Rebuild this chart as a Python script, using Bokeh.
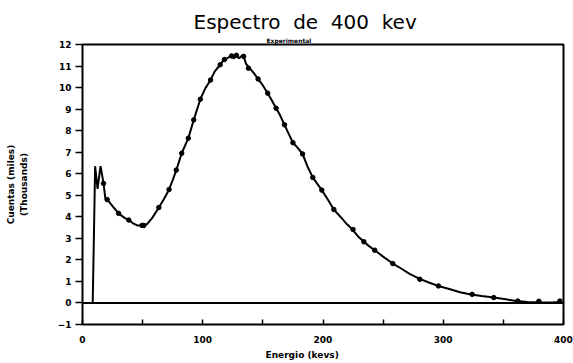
import numpy as np
from bokeh.plotting import figure
from bokeh.models import Range1d, FixedTicker, Span, ColumnDataSource, Title
from bokeh.embed import file_html
from bokeh.resources import INLINE

# Spectrum curve (energy keV, counts in thousands)
energy = [8.5, 10.5, 12.5, 15, 17.5, 19, 21, 25, 30, 35, 38.5, 42, 45.5, 49.5, 53.5, 58,
          63.5, 68, 72, 75, 78, 82.5, 88, 92.5, 98, 102, 106.5, 110, 114.5, 117.5, 120,
          122, 124, 126, 128, 130, 132, 134, 136, 139, 142.5, 146, 150, 154, 157.5, 161,
          164, 168, 171.5, 175, 179, 183, 187, 191.5, 195, 199, 204, 209, 215, 220, 224.5,
          229, 234, 238, 243, 250, 258, 265, 272, 280, 288, 296, 305, 314, 323, 332, 342,
          352, 361, 370, 380, 390, 398]
counts = [0, 6.35, 5.3, 6.35, 5.55, 4.85, 4.78, 4.5, 4.16, 3.95, 3.85, 3.7, 3.6, 3.6, 3.65, 3.95,
          4.43, 4.85, 5.27, 5.7, 6.17, 6.95, 7.65, 8.5, 9.46, 9.95, 10.35, 10.75, 11.06, 11.3, 11.35,
          11.42, 11.47, 11.35, 11.5, 11.35, 11.45, 11.45, 11.1, 10.9, 10.67, 10.4, 10.1, 9.74, 9.4, 9.04,
          8.75, 8.27, 7.85, 7.44, 7.2, 6.92, 6.35, 5.83, 5.55, 5.24, 4.8, 4.34, 3.97, 3.65, 3.41,
          3.1, 2.84, 2.65, 2.45, 2.15, 1.83, 1.6, 1.35, 1.13, 0.95, 0.79, 0.65, 0.5, 0.39, 0.32, 0.25,
          0.17, 0.09, 0.05, 0.03, 0.02, 0.05]

# Marked points along the curve
mark_energy = [17.5, 20.5, 30, 38.5, 49.5, 51, 63.5, 72, 78, 82.5, 88, 92.5, 98, 106.5, 114.5,
               118, 124, 128, 134, 138, 146, 154, 161, 168, 175, 183, 191.5, 199, 209, 225,
               234, 243, 258, 280.5, 296, 324, 342, 362, 379.5, 397]
mark_counts = [5.55, 4.8, 4.16, 3.85, 3.6, 3.6, 4.43, 5.27, 6.17, 6.95, 7.65, 8.5, 9.46, 10.35, 11.06,
               11.3, 11.47, 11.5, 11.45, 10.9, 10.4, 9.74, 9.04, 8.27, 7.44, 6.92, 5.83, 5.24, 4.34, 3.41,
               2.84, 2.45, 1.83, 1.1, 0.79, 0.4, 0.25, 0.09, 0.08, 0.09]

x_ticks = [0, 100, 200, 300, 400]
x_minor = [50, 150, 250, 350]
y_ticks = list(range(-1, 13))

p = figure(width=573, height=363, output_backend="svg", toolbar_location=None,
           x_range=Range1d(0, 400), y_range=Range1d(-1, 12),
           min_border_left=82, min_border_right=10, min_border_top=44, min_border_bottom=39)
p.title = None
p.background_fill_color = "white"
p.border_fill_color = "white"
p.grid.visible = False
p.outline_line_color = "black"
p.outline_line_width = 2

p.xaxis.ticker = FixedTicker(ticks=x_ticks, minor_ticks=x_minor)
p.yaxis.ticker = FixedTicker(ticks=y_ticks)
for ax in (p.xaxis, p.yaxis):
    ax.axis_line_color = None
    ax.major_label_text_font = "DejaVu Sans"
    ax.major_label_text_font_style = "bold"
    ax.major_label_text_font_size = "9px"
    ax.major_label_text_color = "black"
    ax.major_tick_line_color = "black"
    ax.major_tick_line_width = 1.5
p.yaxis.major_tick_in = 0
p.yaxis.major_tick_out = 7
p.yaxis.minor_tick_line_color = None
p.yaxis.major_label_standoff = 4
p.yaxis.axis_label = " "
p.yaxis.axis_label_text_font_size = "1px"
p.yaxis.axis_label_standoff = 20
p.xaxis.major_tick_in = 5
p.xaxis.major_tick_out = 0
p.xaxis.minor_tick_in = 5
p.xaxis.minor_tick_out = 0
p.xaxis.minor_tick_line_color = "black"
p.xaxis.minor_tick_line_width = 1.5
p.xaxis.major_label_standoff = 11

p.add_layout(Span(location=0, dimension="width", line_color="black", line_width=2))

src = ColumnDataSource(dict(x=energy, y=counts))
p.line("x", "y", source=src, line_color="black", line_width=2)
p.scatter(mark_energy, mark_counts, marker="circle", size=4.5, fill_color="black", line_color="black")

sub = Title(text="Experimental", text_font="DejaVu Sans", text_font_style="bold",
            text_font_size="6px", align="left", offset=184, standoff=2, text_color="black")
main = Title(text="Espectro\u00a0\u00a0de\u00a0\u00a0400\u00a0\u00a0kev", text_font="DejaVu Sans",
             text_font_style="normal", text_font_size="20px", align="left", offset=111,
             standoff=0, text_color="black")
p.add_layout(sub, "above")
p.add_layout(main, "above")

xl = Title(text="Energio (kevs)", text_font="DejaVu Sans", text_font_style="bold",
           text_font_size="9px", align="left", offset=183, standoff=5, text_color="black")
p.add_layout(xl, "below")

yl2 = Title(text="(Thousands)", text_font="DejaVu Sans", text_font_style="bold",
            text_font_size="9px", align="center", standoff=3, text_color="black")
yl1 = Title(text="Cuentas (miles)", text_font="DejaVu Sans", text_font_style="bold",
            text_font_size="9px", align="center", standoff=0, text_color="black")
p.add_layout(yl2, "left")
p.add_layout(yl1, "left")

open("out.html", "w").write(file_html(p, INLINE))
